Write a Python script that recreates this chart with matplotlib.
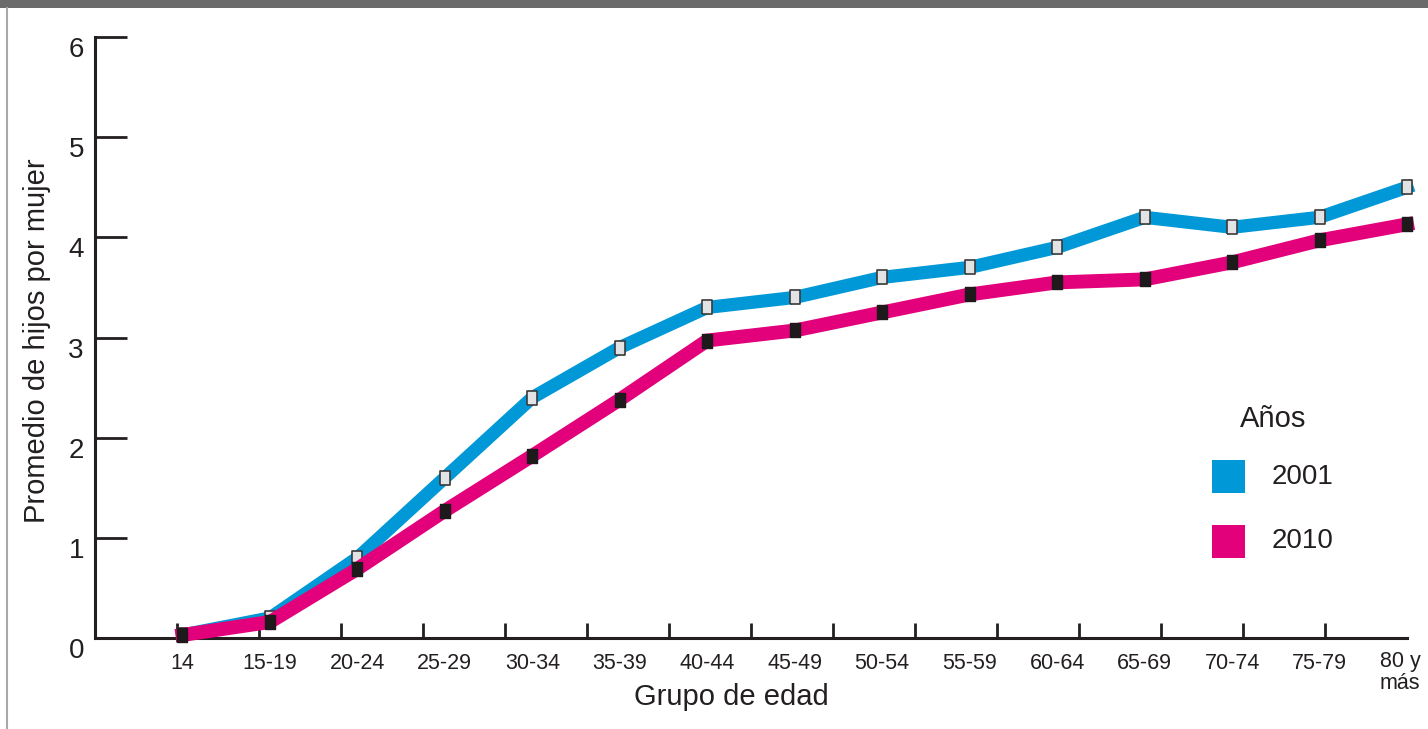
import matplotlib
matplotlib.use("Agg")
import matplotlib.pyplot as plt
import matplotlib.transforms as mtransforms
import numpy as np
from matplotlib.patches import Rectangle
from matplotlib.lines import Line2D

plt.rcParams['font.family'] = ['Liberation Sans', 'DejaVu Sans']

categories = ["14", "15-19", "20-24", "25-29", "30-34", "35-39", "40-44", "45-49",
              "50-54", "55-59", "60-64", "65-69", "70-74", "75-79", "80 y\nmás"]
values_2001 = [0.03, 0.20, 0.80, 1.60, 2.40, 2.90, 3.30, 3.40, 3.60, 3.70, 3.90, 4.20, 4.10, 4.20, 4.50]
values_2010 = [0.03, 0.16, 0.69, 1.27, 1.82, 2.38, 2.97, 3.07, 3.25, 3.43, 3.55, 3.58, 3.75, 3.97, 4.13]
yticks = [0, 1, 2, 3, 4, 5, 6]
legend_title = "Años"
legend_labels = ["2001", "2010"]

W, H = 1428, 729
fig = plt.figure(figsize=(W / 100, H / 100), dpi=100)
fig.patch.set_facecolor("white")

def fx(px):
    return px / W

def fy(py):
    return 1 - py / H

BLUE = "#0098d6"
PINK = "#e3007b"
DARK = "#231f20"

ax = fig.add_axes([fx(95), fy(638), fx(1407) - fx(95), fy(37) - fy(638)])
ax.set_facecolor("none")
ax.set_xlim(-1, 14)
ax.set_ylim(0, 6)

for s in ["top", "right"]:
    ax.spines[s].set_visible(False)
for s in ["left", "bottom"]:
    ax.spines[s].set_linewidth(2.2)
    ax.spines[s].set_color(DARK)

x = np.arange(len(categories))
marker_path = [(-0.37, -0.5), (0.37, -0.5), (0.37, 0.5), (-0.37, 0.5), (-0.37, -0.5)]

ax.plot(x, values_2001, color=BLUE, lw=9.5, solid_joinstyle="miter", zorder=3, clip_on=False)
ax.plot(x, values_2001, ls="none", marker=marker_path, ms=10, mfc="#e2e3e5",
        mec="#3a3a3a", mew=1.2, zorder=4, clip_on=False)
ax.plot(x, values_2010, color=PINK, lw=10, solid_joinstyle="miter", zorder=5, clip_on=False)
ax.plot(x, values_2010, ls="none", marker=marker_path, ms=10, mfc="#1e1a1b",
        mec="#1e1a1b", mew=1.0, zorder=6, clip_on=False)

# y ticks
ax.set_yticks(yticks)
ax.set_yticklabels([str(v) for v in yticks])
ax.tick_params(axis="y", direction="in", length=23, width=2, color=DARK,
               labelsize=20, pad=8, labelcolor=DARK)
for lab in ax.get_yticklabels():
    lab.set_verticalalignment("top")

# x labels at categories (last one placed by hand, shifted left), tick marks evenly spaced
ax.set_xticks(x)
ax.set_xticklabels(categories[:-1] + [""], linespacing=1.0)
ax.tick_params(axis="x", which="major", length=0, labelsize=15.5, pad=11, labelcolor=DARK)
ax.set_xticks(np.linspace(-0.057, 14, 16), minor=True)
ax.tick_params(axis="x", which="minor", direction="in", length=11, width=2, color=DARK)

last_tf = ax.get_xaxis_transform() + mtransforms.ScaledTranslation(-7 / 100, -13.5 / 100, fig.dpi_scale_trans)
ax.text(x[-1], 0, categories[-1], transform=last_tf, fontsize=15.5, color=DARK,
        ha="center", va="top", linespacing=1.05, clip_on=False)

fig.text(fx(731), fy(697), "Grupo de edad", fontsize=21, color=DARK, ha="center", va="center")

fig.text(fx(37), fy(341), "Promedio de hijos por mujer", rotation=90, fontsize=21,
         color=DARK, ha="center", va="center")

# legend
fig.text(fx(1273), fy(419), legend_title, fontsize=21, color=DARK, ha="center", va="center")
for i, (lab, col) in enumerate(zip(legend_labels, [BLUE, PINK])):
    top = 460 + 65 * i
    fig.patches.append(Rectangle((fx(1212), fy(top + 33)), fx(33), 33 / H,
                                 transform=fig.transFigure, facecolor=col, edgecolor="none"))
    fig.text(fx(1272), fy(top + 16.5), lab, fontsize=20, color=DARK, ha="left", va="center")

# frame decorations
fig.patches.append(Rectangle((0, fy(8)), 1, 8 / H, transform=fig.transFigure,
                             facecolor="#6b6b6b", edgecolor="none"))
fig.lines.append(Line2D([fx(7), fx(7)], [0, fy(8)], transform=fig.transFigure,
                        color="#a8a8a8", lw=1.5))

fig.savefig("out.png", dpi=100)
